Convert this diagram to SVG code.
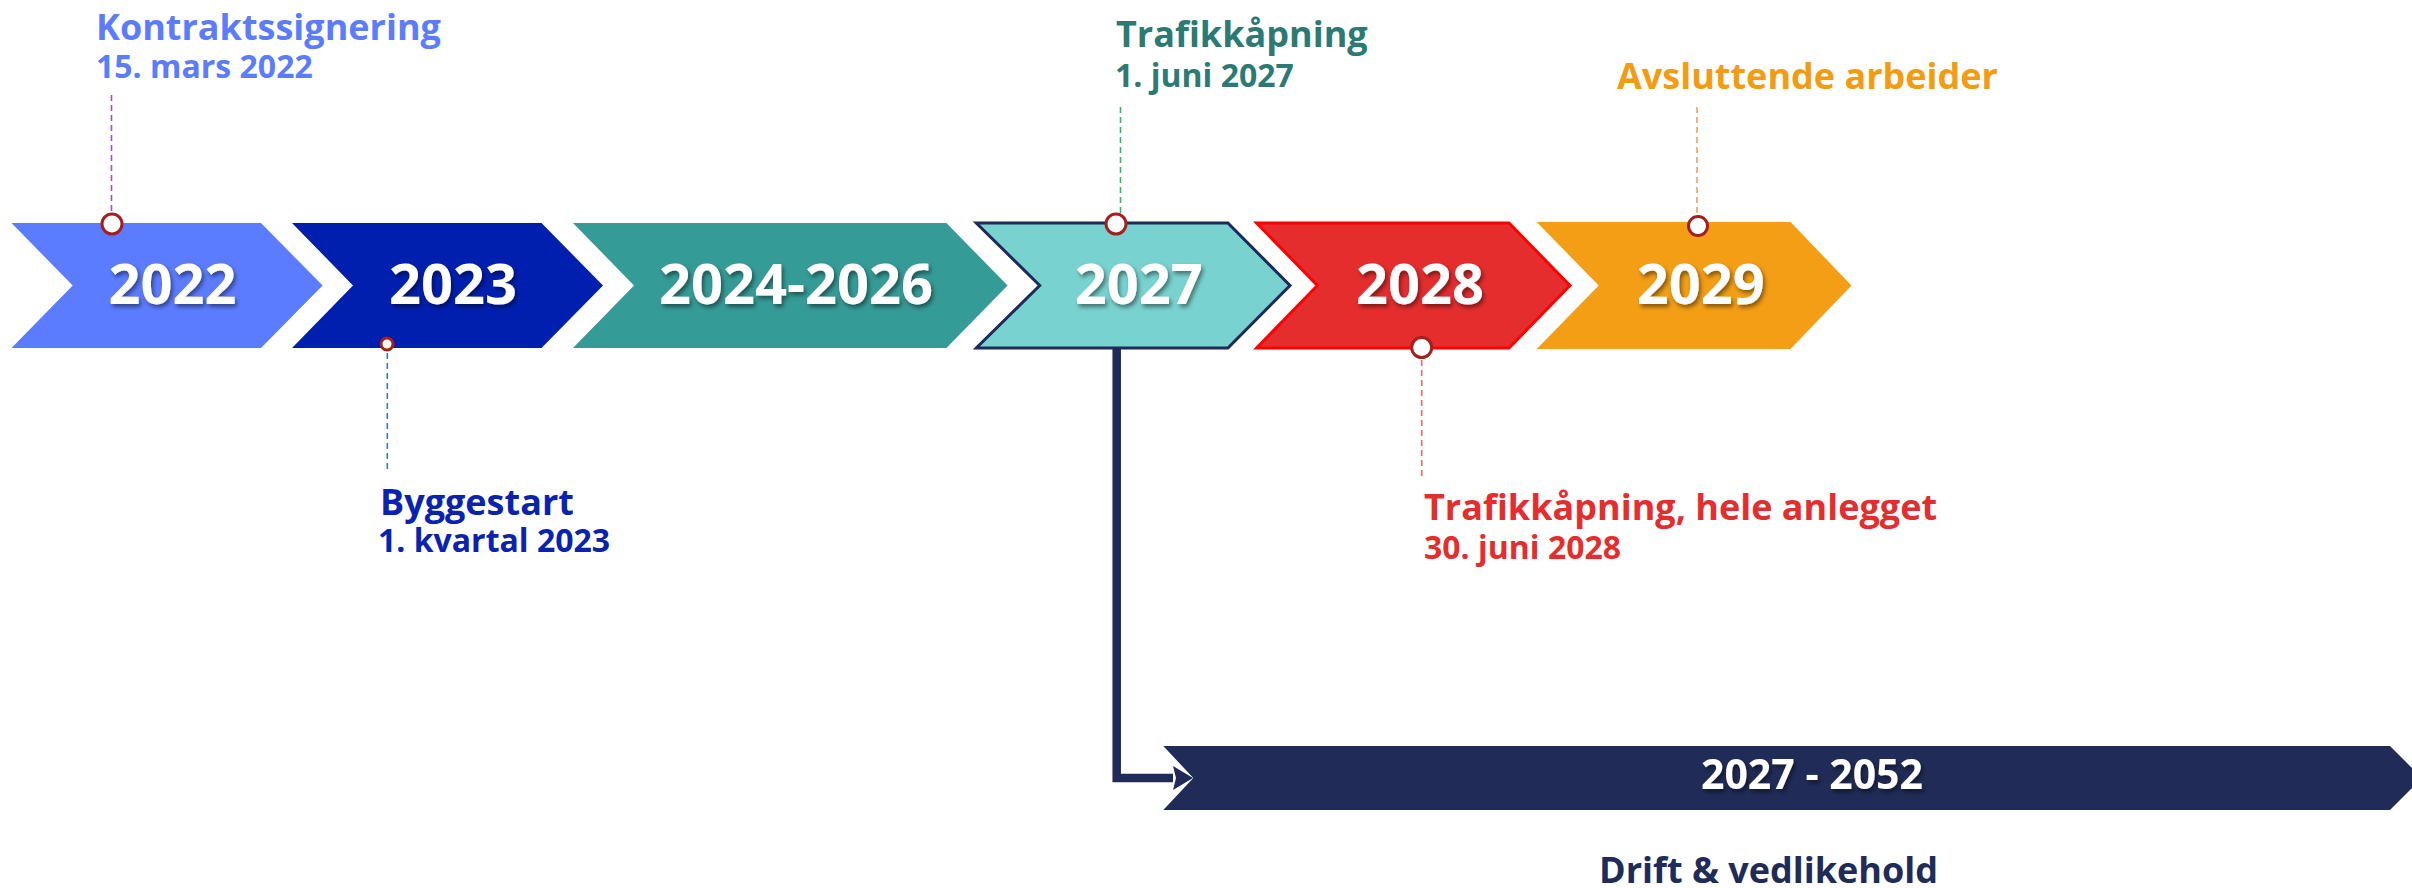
<svg xmlns="http://www.w3.org/2000/svg" width="2412" height="888" viewBox="0 0 2412 888">
<defs>
<style>
text{font-family:"Open Sans","Noto Sans","Liberation Sans",sans-serif;font-weight:700}
.yr{font-size:56px;fill:#fff;text-anchor:middle;filter:url(#sh)}
.t1{font-size:36px}
.t2{font-size:32px}
.dot{fill:#fff;stroke:#a61f1f;stroke-width:3}
.lead{fill:none;stroke-width:1.6;stroke-dasharray:6 4}
</style>
<filter id="sh" x="-20%" y="-30%" width="140%" height="160%">
<feDropShadow dx="2" dy="3" stdDeviation="2" flood-color="#000" flood-opacity="0.45"/>
</filter>
<marker id="ah" markerUnits="userSpaceOnUse" markerWidth="22" markerHeight="26" viewBox="0 0 22 26" refX="0" refY="13" orient="auto">
<path d="M0,1 L20,13 L0,25 L3,13 z" fill="#202B5A"/>
</marker>
</defs>
<rect width="2412" height="888" fill="#fff"/>

<g id="connectors">
<path d="M1116.7 349 V778 H1173" fill="none" stroke="#202B5A" stroke-width="8.5" marker-end="url(#ah)"/>
<line class="lead" x1="111.5" y1="95" x2="111.5" y2="213" stroke="#a050c0"/>
<line class="lead" x1="387.3" y1="353" x2="387.3" y2="472" stroke="#3a78b8"/>
<line class="lead" x1="1120.5" y1="107" x2="1120.5" y2="213" stroke="#2ebd5a"/>
<line class="lead" x1="1421.7" y1="360" x2="1421.7" y2="477" stroke="#e86a64"/>
<line class="lead" x1="1697" y1="107" x2="1697" y2="215" stroke="#f0a060"/>
</g>

<g id="n2022">
<polygon points="11.5,223 261,223 322.6,285.5 261,348 11.5,348 72.7,285.5" fill="#5B7CFF"/>
<text class="yr" x="172.6" y="304">2022</text>
<circle class="dot" cx="112" cy="224" r="10"/>
</g>
<g id="n2023">
<polygon points="292,223 541.5,223 603,285.5 541.5,348 292,348 353,285.5" fill="#001FAF"/>
<text class="yr" x="453" y="304">2023</text>
<circle class="dot" cx="387" cy="344" r="6"/>
</g>
<g id="n2024">
<polygon points="573,223 946.4,223 1007.6,285.5 946.4,348 573,348 634,285.5" fill="#359B97"/>
<text class="yr" x="796" y="304">2024-2026</text>
</g>
<g id="n2027">
<polygon points="976.3,223 1227.9,223 1290,285.5 1227.9,348 976.3,348 1039.7,285.5" fill="#78D2CF" stroke="#1F2A5A" stroke-width="3"/>
<text class="yr" x="1138.8" y="304">2027</text>
<circle class="dot" cx="1116" cy="224" r="10"/>
</g>
<g id="n2028">
<polygon points="1256.6,223 1509,223 1570,285.5 1509,348 1256.6,348 1317.4,285.5" fill="#E52D2E" stroke="#FF0000" stroke-width="3"/>
<text class="yr" x="1420" y="304">2028</text>
<circle class="dot" cx="1421.7" cy="347.5" r="10"/>
</g>
<g id="n2029">
<polygon points="1536.7,222 1790.5,222 1851.5,285.5 1790.5,349 1536.7,349 1598.7,285.5" fill="#F39E15"/>
<text class="yr" x="1700.8" y="304">2029</text>
<circle class="dot" cx="1698" cy="226" r="9.5"/>
</g>
<g id="drift">
<polygon points="1163.3,746 2390,746 2422,778 2390,810 1163.3,810 1193.3,778" fill="#202B57"/>
<text x="1812" y="789" font-size="41" fill="#fff" text-anchor="middle" filter="url(#sh)">2027 - 2052</text>
<text class="t1" x="1599" y="883" fill="#202B57">Drift &amp; vedlikehold</text>
</g>

<g id="lbl-kontrakt">
<text class="t1" x="96" y="40" fill="#5B7CFF">Kontraktssignering</text>
<text class="t2" x="96" y="78" fill="#5B7CFF">15. mars 2022</text>
</g>
<g id="lbl-bygg">
<text class="t1" x="380" y="515" fill="#0A22B0">Byggestart</text>
<text class="t2" x="378" y="552" fill="#0A22B0">1. kvartal 2023</text>
</g>
<g id="lbl-trafikk">
<text class="t1" x="1116" y="47" fill="#2B7A73">Trafikkåpning</text>
<text class="t2" x="1115" y="87" fill="#2B7A73">1. juni 2027</text>
</g>
<g id="lbl-hele">
<text class="t1" x="1424" y="520" fill="#E52D2E">Trafikkåpning, hele anlegget</text>
<text class="t2" x="1424" y="559" fill="#E52D2E">30. juni 2028</text>
</g>
<g id="lbl-avsl">
<text class="t1" x="1617" y="89" fill="#F39C12">Avsluttende arbeider</text>
</g>
</svg>
